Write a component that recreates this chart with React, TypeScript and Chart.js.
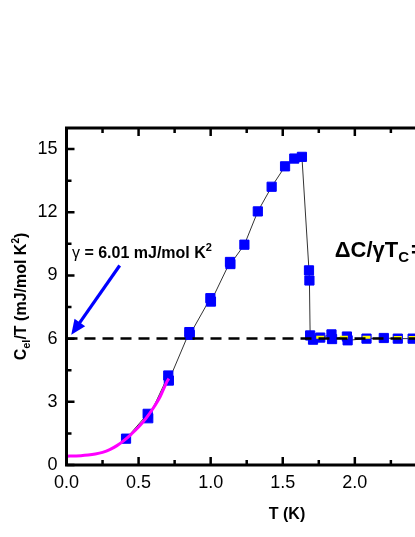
import React, { useEffect, useRef } from "react";
import { Chart, registerables } from "chart.js";

Chart.register(...registerables);

// ---- data ----
const celT = [0.413, 0.563, 0.567, 0.706, 0.71, 0.852, 0.855, 0.998, 1.002, 1.134, 1.137, 1.234, 1.327, 1.423, 1.516, 1.58, 1.633, 1.682, 1.685, 1.69, 1.71, 1.76, 1.838, 1.842, 1.945, 1.95, 2.081, 2.201, 2.298, 2.401, 2.5, 2.6, 2.7, 2.8, 2.9];
const celY = [1.25, 2.43, 2.22, 4.25, 4.01, 6.31, 6.18, 7.92, 7.76, 9.64, 9.54, 10.46, 12.04, 13.21, 14.18, 14.55, 14.63, 9.24, 8.76, 6.15, 5.95, 6.05, 6.2, 5.98, 6.1, 5.92, 6.0, 6.03, 6.0, 6.0, 6.02, 6.0, 6.01, 6.0, 6.0];

const yellowT = [1.76, 1.924, 2.081, 2.298, 2.401];
const yellowY = [6.06, 6.06, 6.07, 6.05, 6.05];

const fitT = [0, 0.05, 0.1, 0.15, 0.2, 0.25, 0.3, 0.35, 0.4, 0.45, 0.5, 0.55, 0.6, 0.65, 0.7, 0.71];
const fitY = [0.42, 0.43, 0.44, 0.47, 0.52, 0.6, 0.73, 0.92, 1.17, 1.47, 1.8, 2.2, 2.68, 3.25, 4.0, 4.1];

const gammaT = [0, 3];
const gammaY = [6.01, 6.01];

const xTicks = [0, 0.5, 1.0, 1.5, 2.0, 2.5, 3.0];
const xMinor = [0.25, 0.75, 1.25, 1.75, 2.25, 2.75];
const yTicks = [0, 3, 6, 9, 12, 15];
const yMinor = [1.5, 4.5, 7.5, 10.5, 13.5];

const FONT = '"Liberation Sans", Arial, Helvetica, sans-serif';

type Part = { t: string; size: number; dy?: number; dx?: number; bold?: boolean };

function partsWidth(ctx: CanvasRenderingContext2D, parts: Part[]) {
  let w = 0;
  for (const p of parts) {
    ctx.font = `${p.bold === false ? "" : "bold "}${p.size}px ${FONT}`;
    w += ctx.measureText(p.t).width + (p.dx || 0);
  }
  return w;
}

function drawParts(ctx: CanvasRenderingContext2D, parts: Part[], x: number, y: number) {
  let cx = x;
  ctx.textBaseline = "alphabetic";
  ctx.textAlign = "left";
  for (const p of parts) {
    ctx.font = `${p.bold === false ? "" : "bold "}${p.size}px ${FONT}`;
    cx += p.dx || 0;
    ctx.fillText(p.t, cx, y + (p.dy || 0));
    cx += ctx.measureText(p.t).width;
  }
}

const decor = {
  id: "decor",
  afterDatasetsDraw(chart: any) {
    const { ctx, chartArea: a, scales } = chart;
    const xs = scales.x;
    const ys = scales.y;
    ctx.save();
    ctx.fillStyle = "#000";
    ctx.strokeStyle = "#000";

    // axes frame
    ctx.lineWidth = 3;
    ctx.beginPath();
    ctx.moveTo(a.left, a.top);
    ctx.lineTo(a.left, a.bottom);
    ctx.lineTo(a.right, a.bottom);
    ctx.lineTo(a.right, a.top);
    ctx.lineTo(a.left, a.top);
    ctx.closePath();
    ctx.stroke();

    // ticks (inward)
    ctx.lineWidth = 2.5;
    ctx.beginPath();
    const tickY = (v: number, len: number) => {
      const p = ys.getPixelForValue(v);
      ctx.moveTo(a.left, p);
      ctx.lineTo(a.left + len, p);
      ctx.moveTo(a.right, p);
      ctx.lineTo(a.right - len, p);
    };
    const tickX = (v: number, len: number) => {
      const p = xs.getPixelForValue(v);
      ctx.moveTo(p, a.bottom);
      ctx.lineTo(p, a.bottom - len);
      ctx.moveTo(p, a.top);
      ctx.lineTo(p, a.top + len);
    };
    yTicks.forEach((v) => tickY(v, 8));
    yMinor.forEach((v) => tickY(v, 5));
    xTicks.forEach((v) => tickX(v, 8));
    xMinor.forEach((v) => tickX(v, 5));
    ctx.stroke();

    // arrow
    const x0 = xs.getPixelForValue(0.369);
    const y0 = ys.getPixelForValue(9.47);
    const x1 = xs.getPixelForValue(0.033);
    const y1 = ys.getPixelForValue(6.18);
    const ang = Math.atan2(y1 - y0, x1 - x0);
    const headLen = 15;
    const headW = 6.5;
    ctx.strokeStyle = "#0000ff";
    ctx.fillStyle = "#0000ff";
    ctx.lineWidth = 3.2;
    ctx.beginPath();
    ctx.moveTo(x0, y0);
    ctx.lineTo(x1 - Math.cos(ang) * (headLen - 2), y1 - Math.sin(ang) * (headLen - 2));
    ctx.stroke();
    const bx = x1 - Math.cos(ang) * headLen;
    const by = y1 - Math.sin(ang) * headLen;
    ctx.beginPath();
    ctx.moveTo(x1, y1);
    ctx.lineTo(bx + Math.sin(ang) * headW, by - Math.cos(ang) * headW);
    ctx.lineTo(bx - Math.sin(ang) * headW, by + Math.cos(ang) * headW);
    ctx.closePath();
    ctx.fill();

    // annotation texts
    ctx.fillStyle = "#000";
    drawParts(
      ctx,
      [
        { t: "γ", size: 16, bold: false },
        { t: " = 6.01 mJ/mol K", size: 16 },
        { t: "2", size: 11, dy: -7 },
      ],
      xs.getPixelForValue(0.038),
      ys.getPixelForValue(9.83)
    );
    drawParts(
      ctx,
      [
        { t: "ΔC/γT", size: 22 },
        { t: "C", size: 15, dy: 5 },
        { t: "= 1.43", size: 22, dx: 2 },
      ],
      xs.getPixelForValue(1.861),
      ys.getPixelForValue(9.88)
    );

    // axis titles
    const xTitle: Part[] = [{ t: "T (K)", size: 16 }];
    const xw = partsWidth(ctx, xTitle);
    drawParts(ctx, xTitle, 287 - xw / 2, 519);

    const yTitle: Part[] = [
      { t: "C", size: 16 },
      { t: "el", size: 11, dy: 4 },
      { t: "/T (mJ/mol K", size: 16 },
      { t: "2", size: 10, dy: -7 },
      { t: ")", size: 16 },
    ];
    const yw = partsWidth(ctx, yTitle);
    ctx.translate(26, (a.top + a.bottom) / 2);
    ctx.rotate(-Math.PI / 2);
    drawParts(ctx, yTitle, -yw / 2, 0);
    ctx.restore();
  },
};

export default function App() {
  const ref = useRef<HTMLCanvasElement | null>(null);
  useEffect(() => {
    if (!ref.current) return;
    const chart = new Chart(ref.current, {
      type: "scatter",
      data: {
        datasets: [
          {
            label: "gamma",
            data: gammaT.map((t, i) => ({ x: t, y: gammaY[i] })),
            showLine: true,
            borderColor: "#000",
            borderWidth: 2.5,
            borderDash: [11, 7],
            pointRadius: 0,
            order: 0,
          },
          {
            label: "fit",
            data: fitT.map((t, i) => ({ x: t, y: fitY[i] })),
            showLine: true,
            borderColor: "#ff00ff",
            borderWidth: 3,
            cubicInterpolationMode: "monotone",
            pointRadius: 0,
            order: 1,
          },
          {
            label: "normal",
            data: yellowT.map((t, i) => ({ x: t, y: yellowY[i] })),
            showLine: false,
            pointStyle: "line",
            pointRadius: 4,
            pointBorderColor: "#ffff00",
            pointBorderWidth: 3,
            order: 2,
          },
          {
            label: "Cel/T",
            data: celT.map((t, i) => ({ x: t, y: celY[i] })),
            showLine: true,
            borderColor: "#333",
            borderWidth: 1,
            pointStyle: "rect",
            pointRadius: 6.5,
            pointBackgroundColor: "#0000ff",
            pointBorderColor: "#0000ff",
            pointBorderWidth: 1,
            order: 3,
          },
        ],
      },
      options: {
        responsive: false,
        animation: false,
        events: [],
        layout: { padding: { left: 0, right: 21, top: 128, bottom: 0 } },
        plugins: { legend: { display: false }, tooltip: { enabled: false } },
        scales: {
          x: {
            type: "linear",
            min: 0,
            max: 3,
            grid: { display: false, drawTicks: false },
            border: { display: false },
            afterBuildTicks: (s: any) => {
              s.ticks = xTicks.map((v) => ({ value: v }));
            },
            afterFit: (s: any) => {
              s.height = 72;
            },
            ticks: {
              padding: 7,
              color: "#000",
              font: { family: FONT, size: 18 },
              maxRotation: 0,
              autoSkip: false,
              callback: (v: any) => Number(v).toFixed(1),
            },
          },
          y: {
            type: "linear",
            min: 0,
            max: 16,
            grid: { display: false, drawTicks: false },
            border: { display: false },
            afterBuildTicks: (s: any) => {
              s.ticks = yTicks.map((v) => ({ value: v }));
            },
            afterFit: (s: any) => {
              s.width = 66.5;
            },
            ticks: {
              padding: 9,
              color: "#000",
              font: { family: FONT, size: 18 },
              callback: (v: any) => String(v),
            },
          },
        },
      },
      plugins: [decor],
    });
    return () => chart.destroy();
  }, []);

  return (
    <div
      style={{
        position: "fixed",
        left: 0,
        top: 0,
        width: 415,
        height: 537,
        overflow: "hidden",
        background: "#fff",
      }}
    >
      <canvas ref={ref} width={520} height={537} style={{ display: "block" }} />
    </div>
  );
}
